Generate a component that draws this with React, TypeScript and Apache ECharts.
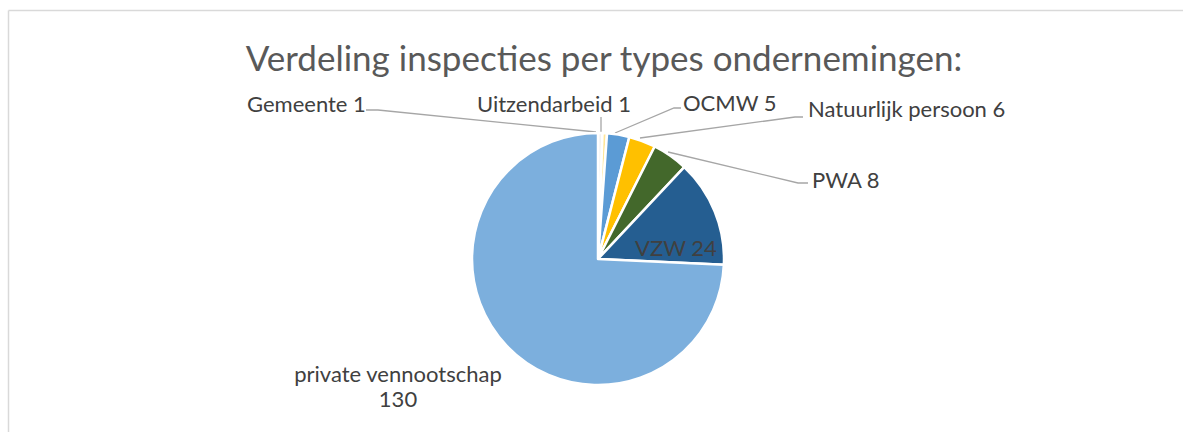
import React, { useEffect, useRef } from "react";
import * as echarts from "echarts";

const TITLE = "Verdeling inspecties per types ondernemingen:";
const categories = [
  "Gemeente",
  "Uitzendarbeid",
  "OCMW",
  "Natuurlijk persoon",
  "PWA",
  "VZW",
  "private vennootschap",
];
const values = [1, 1, 5, 6, 8, 24, 130];
const colors = ["#F2F2F2", "#FFE699", "#5B9BD5", "#FFC000", "#43682B", "#255E91", "#7CAFDD"];

// label placement (styling only)
const labelLayouts: any[] = [
  { x: 247, y: 103, align: "left", line: [[366, 110], [378, 110], [596, 132]] },
  { x: 477, y: 103, align: "left", line: [[601, 117], [601, 117], [601, 132]] },
  { x: 683, y: 102, align: "left", line: [[681, 108], [674, 108], [615, 133]] },
  { x: 808, y: 108, align: "left", line: [[803, 117], [795, 117], [640, 138]] },
  { x: 812, y: 179, align: "left", line: [[808, 183], [798, 183], [668, 152]] },
  { x: 676, y: 247, align: "center", line: null },
  { x: 398, y: 386, align: "center", line: null },
];

export default function App() {
  const ref = useRef<HTMLDivElement>(null);
  useEffect(() => {
    if (!ref.current) return;
    const chart = echarts.init(ref.current, null, { renderer: "svg" });
    const data = categories.map((name, i) => {
      const item: any = {
        name,
        value: values[i],
        itemStyle: { color: colors[i] },
      };
      if (i === categories.length - 1) {
        item.label = { formatter: "{b}\n{c}", lineHeight: 25 };
        item.labelLine = { show: false };
      }
      if (i === 5) {
        item.labelLine = { show: false };
      }
      return item;
    });
    chart.setOption({
      animation: false,
      backgroundColor: "#ffffff",
      title: {
        text: TITLE,
        left: 599,
        top: 34,
        textAlign: "center",
        textStyle: {
          fontFamily: "Lato",
          fontSize: 35,
          fontWeight: "normal",
          color: "#595959",
        },
      },
      graphic: [
        {
          type: "line",
          shape: { x1: 8.5, y1: 10.5, x2: 1183, y2: 10.5 },
          style: { stroke: "#d9d9d9", lineWidth: 1.5 },
        },
        {
          type: "line",
          shape: { x1: 8.5, y1: 10.5, x2: 8.5, y2: 432 },
          style: { stroke: "#d9d9d9", lineWidth: 1.5 },
        },
      ],
      series: [
        {
          type: "pie",
          center: [598, 259],
          radius: 126,
          startAngle: 90,
          clockwise: true,
          avoidLabelOverlap: false,
          itemStyle: { borderColor: "#ffffff", borderWidth: 2.5 },
          label: {
            show: true,
            formatter: "{b} {c}",
            fontFamily: "Lato",
            fontSize: 22,
            color: "#404040",
          },
          labelLine: {
            show: true,
            lineStyle: { color: "#a6a6a6", width: 1.3 },
          },
          labelLayout: (params: any) => {
            const L = labelLayouts[params.dataIndex];
            const out: any = {
              x: L.x,
              y: L.y,
              align: L.align,
              verticalAlign: "middle",
            };
            if (L.line) out.labelLinePoints = L.line;
            return out;
          },
          emphasis: { disabled: true },
          data,
        },
      ],
    });
    return () => chart.dispose();
  }, []);
  return (
    <div
      ref={ref}
      style={{ position: "fixed", left: 0, top: 0, width: 1183, height: 432 }}
    />
  );
}
